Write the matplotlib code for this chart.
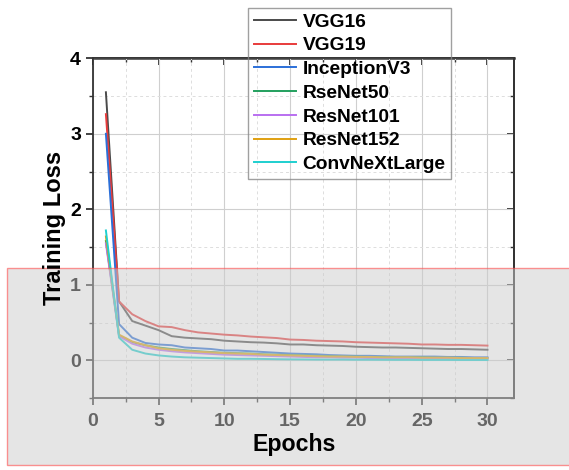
import matplotlib
matplotlib.use("Agg")
import matplotlib.pyplot as plt
from matplotlib.patches import Rectangle
from matplotlib.ticker import MultipleLocator

plt.rcParams['font.family'] = ['Liberation Sans', 'DejaVu Sans']
plt.rcParams['font.weight'] = 'bold'

epochs = list(range(1, 31))
vgg16 = [3.55, 0.78, 0.52, 0.46, 0.40, 0.32, 0.30, 0.29, 0.28, 0.26, 0.25, 0.24, 0.235, 0.225, 0.21,
         0.21, 0.20, 0.195, 0.19, 0.18, 0.175, 0.17, 0.17, 0.165, 0.16, 0.155, 0.15, 0.15, 0.145, 0.14]
vgg19 = [3.26, 0.78, 0.61, 0.52, 0.45, 0.44, 0.40, 0.37, 0.355, 0.34, 0.33, 0.315, 0.305, 0.295, 0.275,
         0.27, 0.26, 0.255, 0.25, 0.24, 0.235, 0.23, 0.225, 0.22, 0.21, 0.21, 0.205, 0.205, 0.20, 0.195]
inception = [3.0, 0.48, 0.30, 0.23, 0.21, 0.20, 0.17, 0.16, 0.15, 0.13, 0.13, 0.12, 0.11, 0.10, 0.09,
             0.085, 0.08, 0.07, 0.065, 0.06, 0.06, 0.055, 0.05, 0.05, 0.05, 0.05, 0.045, 0.045, 0.04, 0.04]
resnet50 = [1.58, 0.33, 0.24, 0.20, 0.17, 0.15, 0.135, 0.12, 0.11, 0.10, 0.095, 0.09, 0.08, 0.075, 0.07,
            0.065, 0.06, 0.055, 0.05, 0.05, 0.045, 0.045, 0.04, 0.04, 0.04, 0.035, 0.035, 0.035, 0.03, 0.03]
resnet101 = [1.55, 0.32, 0.22, 0.17, 0.14, 0.12, 0.105, 0.095, 0.085, 0.075, 0.07, 0.065, 0.06, 0.055, 0.05,
             0.045, 0.04, 0.04, 0.035, 0.035, 0.03, 0.03, 0.03, 0.025, 0.025, 0.025, 0.02, 0.02, 0.02, 0.02]
resnet152 = [1.64, 0.34, 0.25, 0.20, 0.16, 0.14, 0.125, 0.115, 0.105, 0.095, 0.09, 0.085, 0.075, 0.07, 0.065,
             0.06, 0.055, 0.05, 0.05, 0.045, 0.045, 0.04, 0.04, 0.04, 0.035, 0.035, 0.035, 0.03, 0.03, 0.03]
convnext = [1.72, 0.30, 0.14, 0.09, 0.065, 0.05, 0.04, 0.035, 0.03, 0.025, 0.02, 0.02, 0.018, 0.015, 0.013,
            0.012, 0.01, 0.01, 0.01, 0.008, 0.008, 0.007, 0.006, 0.006, 0.005, 0.005, 0.005, 0.004, 0.004, 0.004]

series = [
    ("VGG16", vgg16, "#4a4a4a"),
    ("VGG19", vgg19, "#e83b3b"),
    ("InceptionV3", inception, "#2b6fd8"),
    ("RseNet50", resnet50, "#22a05e"),
    ("ResNet101", resnet101, "#b96ff0"),
    ("ResNet152", resnet152, "#e0a010"),
    ("ConvNeXtLarge", convnext, "#1ecfcf"),
]

fig = plt.figure(figsize=(5.69, 4.70), dpi=100)
ax = fig.add_axes([0.163, 0.153, 0.740, 0.723])
ax.set_zorder(1)

for name, vals, col in series:
    ax.plot(epochs, vals, color=col, lw=1.4, label=name)

ax.set_xlim(0, 32)
ax.set_ylim(-0.5, 4)
ax.xaxis.set_major_locator(MultipleLocator(5))
ax.xaxis.set_minor_locator(MultipleLocator(2.5))
ax.yaxis.set_major_locator(MultipleLocator(1))
ax.yaxis.set_minor_locator(MultipleLocator(0.5))
ax.set_xticks([0, 5, 10, 15, 20, 25, 30])
ax.set_yticks([0, 1, 2, 3, 4])

ax.grid(which='major', color='#cfcfcf', lw=0.8)
ax.grid(which='minor', color='#dddddd', lw=0.7, ls=(0, (3, 3)))
ax.set_axisbelow(True)

for s in ax.spines.values():
    s.set_color('#333333')
    s.set_linewidth(1.3)
ax.tick_params(which='major', direction='out', length=5, width=1.3, color='#333333',
               labelsize=14, labelcolor='black')
ax.tick_params(axis='x', which='major', pad=6)
ax.tick_params(which='minor', direction='out', length=3, width=1.0, color='#333333')

top = ax.secondary_xaxis('top')
top.xaxis.set_major_locator(MultipleLocator(5))
top.xaxis.set_minor_locator(MultipleLocator(2.5))
top.tick_params(which='both', direction='in', labeltop=False, color='#333333')
top.tick_params(which='major', length=5, width=1.3)
top.tick_params(which='minor', length=3, width=1.0)
top.spines['top'].set_linewidth(1.8)
top.spines['top'].set_color('#333333')

right = ax.secondary_yaxis('right')
right.yaxis.set_major_locator(MultipleLocator(1))
right.yaxis.set_minor_locator(MultipleLocator(0.5))
right.tick_params(which='both', direction='in', labelright=False, color='#333333')
right.tick_params(which='major', length=5, width=1.3)
right.tick_params(which='minor', length=3, width=1.0)
right.spines['right'].set_linewidth(1.3)
right.spines['right'].set_color('#333333')

leg = ax.legend(loc='upper left', bbox_to_anchor=(0.436, 0.984), bbox_transform=fig.transFigure,
                borderaxespad=0, fontsize=13.8, frameon=True, fancybox=False,
                handlelength=2.2, handletextpad=0.35, labelspacing=0.33, borderpad=0.3)
leg.get_frame().set_facecolor('none')
leg.get_frame().set_edgecolor('#888888')
leg.get_frame().set_linewidth(1.0)

# translucent grey box over the lower part of the figure
fig.patches.append(Rectangle((0.0123, 0.0106), 1.0, 0.419, transform=fig.transFigure,
                             facecolor=(0.8, 0.8, 0.8, 0.5), edgecolor=(1, 0.3, 0.3, 0.6),
                             lw=1.0, zorder=2))

fig.text(0.095, 0.515, 'Training Loss', rotation=90, ha='center', va='center',
         fontsize=17, fontweight='bold', zorder=3)
fig.text(0.517, 0.054, 'Epochs', ha='center', va='center',
         fontsize=16.7, fontweight='bold', zorder=3)

fig.savefig('out.png', dpi=100)
